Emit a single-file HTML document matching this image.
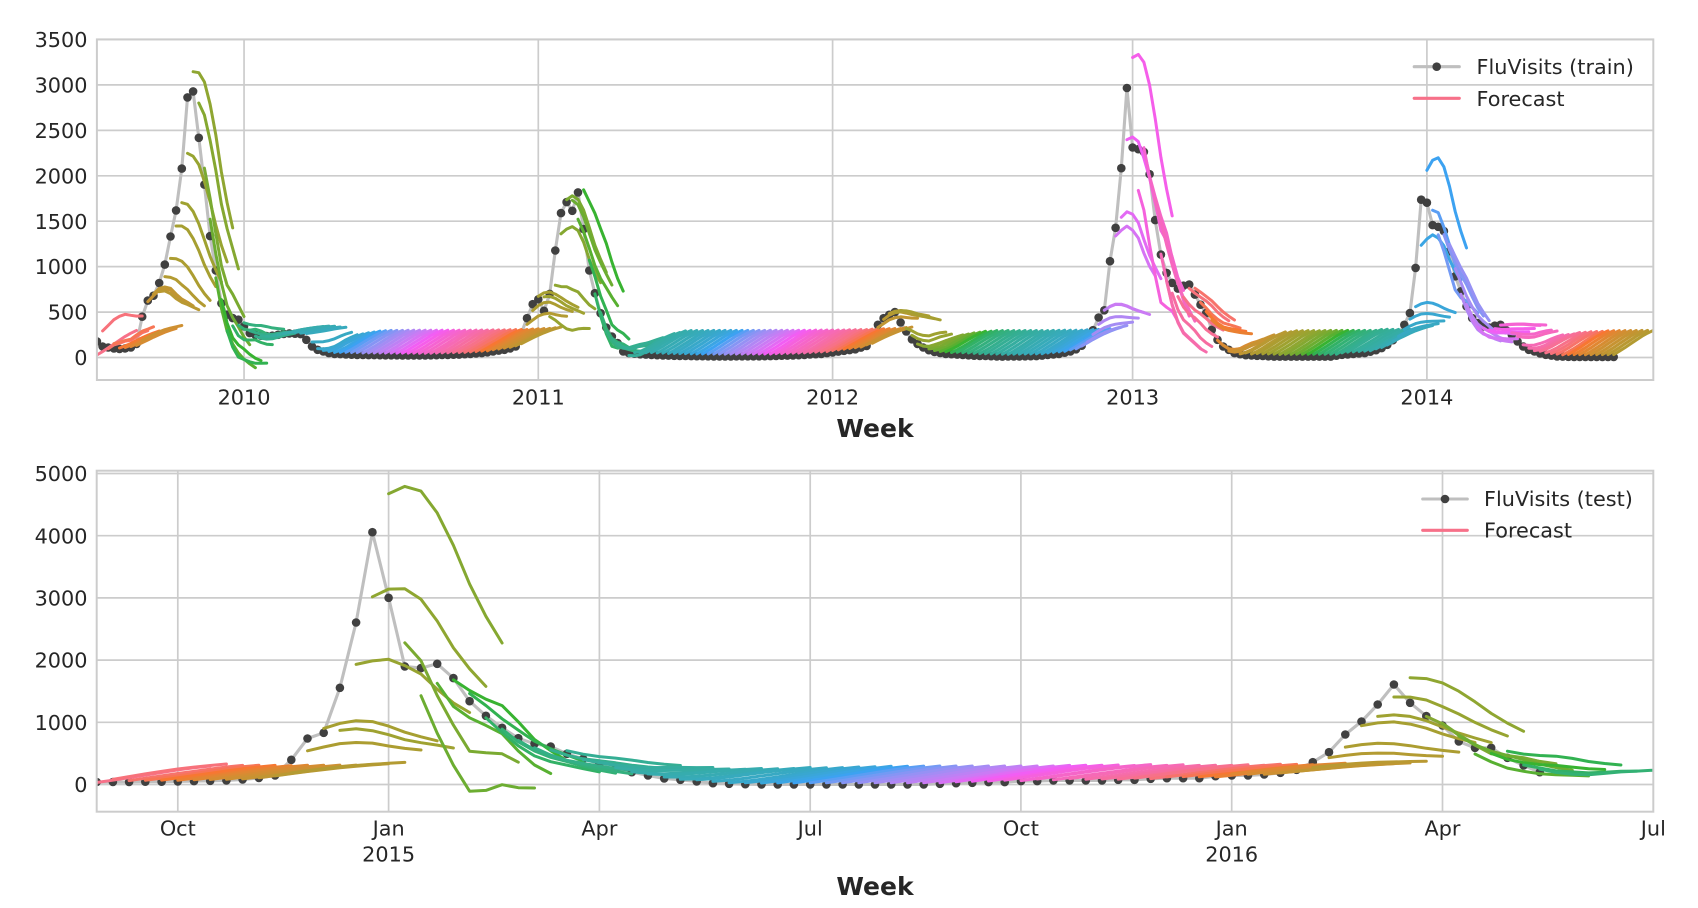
<!DOCTYPE html>
<html>
<head>
<meta charset="utf-8">
<style>
  html,body{margin:0;padding:0;background:#fff;}
  svg{display:block;}
  text{font-family:"DejaVu Sans","Liberation Sans",sans-serif;fill:#262626;}
  .tk{font-size:20.8px;}
  .lb{font-size:25px;font-weight:bold;}
  .grid line{stroke:#cccccc;stroke-width:1.7;}
</style>
</head>
<body>
<svg id="fig" xmlns="http://www.w3.org/2000/svg" width="1698" height="908" viewBox="0 0 1698 908">
  <rect x="0" y="0" width="1698" height="908" fill="#ffffff"/>
  <defs>
    <clipPath id="c1"><rect x="96.9" y="39.4" width="1556.4" height="340.6"/></clipPath>
    <clipPath id="c2"><rect x="96.7" y="470.7" width="1556.6" height="341"/></clipPath>
  </defs>

  <!-- ===== AX1 grid ===== -->
  <g class="grid">
    <line x1="96.9" x2="1653.3" y1="357.5" y2="357.5"/>
    <line x1="96.9" x2="1653.3" y1="312.1" y2="312.1"/>
    <line x1="96.9" x2="1653.3" y1="266.6" y2="266.6"/>
    <line x1="96.9" x2="1653.3" y1="221.2" y2="221.2"/>
    <line x1="96.9" x2="1653.3" y1="175.8" y2="175.8"/>
    <line x1="96.9" x2="1653.3" y1="130.4" y2="130.4"/>
    <line x1="96.9" x2="1653.3" y1="84.9" y2="84.9"/>
    <line x1="96.9" x2="1653.3" y1="39.5" y2="39.5"/>
    <line x1="244.05" x2="244.05" y1="39.4" y2="380"/>
    <line x1="538.3" x2="538.3" y1="39.4" y2="380"/>
    <line x1="832.6" x2="832.6" y1="39.4" y2="380"/>
    <line x1="1132.6" x2="1132.6" y1="39.4" y2="380"/>
    <line x1="1426.9" x2="1426.9" y1="39.4" y2="380"/>
  </g>
  <!-- ===== AX2 grid ===== -->
  <g class="grid">
    <line x1="96.7" x2="1653.3" y1="784.5" y2="784.5"/>
    <line x1="96.7" x2="1653.3" y1="722.3" y2="722.3"/>
    <line x1="96.7" x2="1653.3" y1="660.1" y2="660.1"/>
    <line x1="96.7" x2="1653.3" y1="597.9" y2="597.9"/>
    <line x1="96.7" x2="1653.3" y1="535.7" y2="535.7"/>
    <line x1="96.7" x2="1653.3" y1="473.5" y2="473.5"/>
    <line x1="177.8" x2="177.8" y1="470.7" y2="811.7"/>
    <line x1="388.6" x2="388.6" y1="470.7" y2="811.7"/>
    <line x1="599.4" x2="599.4" y1="470.7" y2="811.7"/>
    <line x1="810.2" x2="810.2" y1="470.7" y2="811.7"/>
    <line x1="1020.9" x2="1020.9" y1="470.7" y2="811.7"/>
    <line x1="1231.7" x2="1231.7" y1="470.7" y2="811.7"/>
    <line x1="1442.5" x2="1442.5" y1="470.7" y2="811.7"/>
  </g>

  <g id="d1" clip-path="url(#c1)"></g>
  <g id="d2" clip-path="url(#c2)"></g>

  <!-- spines -->
  <rect x="96.9" y="39.4" width="1556.4" height="340.6" fill="none" stroke="#cccccc" stroke-width="2"/>
  <rect x="96.7" y="470.7" width="1556.6" height="341" fill="none" stroke="#cccccc" stroke-width="2"/>

  <!-- AX1 tick labels -->
  <g class="tk" text-anchor="end">
    <text x="87.5" y="365.1">0</text>
    <text x="87.5" y="319.7">500</text>
    <text x="87.5" y="274.2">1000</text>
    <text x="87.5" y="228.8">1500</text>
    <text x="87.5" y="183.4">2000</text>
    <text x="87.5" y="138.0">2500</text>
    <text x="87.5" y="92.5">3000</text>
    <text x="87.5" y="47.1">3500</text>
  </g>
  <g class="tk" text-anchor="middle">
    <text x="244.05" y="404.3">2010</text>
    <text x="538.3" y="404.3">2011</text>
    <text x="832.6" y="404.3">2012</text>
    <text x="1132.6" y="404.3">2013</text>
    <text x="1426.9" y="404.3">2014</text>
  </g>
  <text class="lb" x="875" y="437" text-anchor="middle">Week</text>

  <!-- AX2 tick labels -->
  <g class="tk" text-anchor="end">
    <text x="87.5" y="792.1">0</text>
    <text x="87.5" y="729.9">1000</text>
    <text x="87.5" y="667.7">2000</text>
    <text x="87.5" y="605.5">3000</text>
    <text x="87.5" y="543.3">4000</text>
    <text x="87.5" y="481.1">5000</text>
  </g>
  <g class="tk" text-anchor="middle">
    <text x="177.8" y="835.6">Oct</text>
    <text x="388.6" y="835.6">Jan</text>
    <text x="388.6" y="861.5">2015</text>
    <text x="599.4" y="835.6">Apr</text>
    <text x="810.2" y="835.6">Jul</text>
    <text x="1020.9" y="835.6">Oct</text>
    <text x="1231.7" y="835.6">Jan</text>
    <text x="1231.7" y="861.5">2016</text>
    <text x="1442.5" y="835.6">Apr</text>
    <text x="1653.3" y="835.6">Jul</text>
  </g>
  <text class="lb" x="875" y="895" text-anchor="middle">Week</text>

  <!-- Legends -->
  <g>
    <line x1="1414.2" y1="66.7" x2="1459.3" y2="66.7" stroke="#bfbfbf" stroke-width="3.1" stroke-linecap="round"/>
    <circle cx="1436.7" cy="66.7" r="4.3" fill="#404040"/>
    <text class="tk" x="1476.5" y="74">FluVisits (train)</text>
    <line x1="1414.2" y1="98.3" x2="1459.3" y2="98.3" stroke="#f77189" stroke-width="3.1" stroke-linecap="round"/>
    <text class="tk" x="1476.5" y="106">Forecast</text>
  </g>
  <g>
    <line x1="1422.7" y1="499" x2="1467.3" y2="499" stroke="#bfbfbf" stroke-width="3.1" stroke-linecap="round"/>
    <circle cx="1445" cy="499" r="4.3" fill="#404040"/>
    <text class="tk" x="1484" y="506">FluVisits (test)</text>
    <line x1="1422.7" y1="530.3" x2="1467.3" y2="530.3" stroke="#f77189" stroke-width="3.1" stroke-linecap="round"/>
    <text class="tk" x="1484" y="537.7">Forecast</text>
  </g>
</svg>

<script>
(function(){
  var NS = 'http://www.w3.org/2000/svg';
  // ---------- husl palette (seaborn husl_palette, n=64) ----------
  var m = [[3.2406,-1.5372,-0.4986],[-0.9689,1.8758,0.0415],[0.0557,-0.2040,1.0570]];
  var refU = 0.19784, refV = 0.46834, kappa = 903.3, eps = 0.008856;
  function maxChroma(L,H){
    var hr = H*Math.PI/180, sinH = Math.sin(hr), cosH = Math.cos(hr);
    var sub1 = Math.pow(L+16,3)/1560896.0;
    var sub2 = sub1 > eps ? sub1 : L/kappa;
    var res = Infinity;
    for (var r=0;r<3;r++){
      var m1=m[r][0], m2=m[r][1], m3=m[r][2];
      var top = (0.99915*m1 + 1.05122*m2 + 1.14460*m3)*sub2;
      var rb = 0.86330*m3 - 0.17266*m2;
      var lb = 0.12949*m3 - 0.38848*m1;
      var bottom = (rb*sinH + lb*cosH)*sub2;
      for (var t=0;t<=1;t++){
        var C = L*(top - 1.05122*t)/(bottom + 0.17266*sinH*t);
        if (C>0 && C<res) res = C;
      }
    }
    return res;
  }
  function fromLinear(c){ return c<=0.0031308 ? 12.92*c : 1.055*Math.pow(c,1/2.4)-0.055; }
  function husl(H,S,L){
    var C = maxChroma(L,H)/100*S;
    var hr = H*Math.PI/180;
    var U = C*Math.cos(hr), V = C*Math.sin(hr);
    var t = (L+16)/116;
    var varY = Math.pow(t,3) > eps ? Math.pow(t,3) : (116*t-16)/kappa;
    var varU = U/(13*L)+refU, varV = V/(13*L)+refV;
    var Y = varY;
    var X = -(9*Y*varU)/((varU-4)*varV - varU*varV);
    var Z = (9*Y - 15*varV*Y - varV*X)/(3*varV);
    var out = [];
    for (var r=0;r<3;r++){
      var c = fromLinear(m[r][0]*X + m[r][1]*Y + m[r][2]*Z);
      c = Math.max(0, Math.min(1, c));
      out.push(Math.round(c*255));
    }
    return 'rgb('+out[0]+','+out[1]+','+out[2]+')';
  }
  var pal = [];
  for (var k=0;k<64;k++){
    var h = ((k/64) + 0.01) % 1 * 359;
    pal.push(husl(h, 0.9*99, 0.65*99));
  }

  // ---------- data ----------
  var kp = [[0,177],[1,121],[2,110],[3,100],[4,95],[5,100],[6,110],[7,150],[8,449],[9,626],[10,680],[11,820],[12,1023],[13,1332],[14,1619],[15,2079],[16,2863],[17,2929],[18,2418],[19,1903],[20,1336],[21,957],[22,596],[23,471],[24,434],[25,416],[26,342],[27,269],[28,250],[29,240],[30,235],[31,240],[32,250],[33,260],[34,265],[35,262],[36,258],[37,195],[38,121],[39,85],[40,66],[41,48],[42,40],[46,28],[52,24],[58,22],[64,32],[68,48],[72,85],[73,100],[74,121],[75,270],[76,433],[77,587],[78,640],[79,514],[80,700],[81,1178],[82,1589],[83,1710],[84,1615],[85,1817],[86,1413],[87,958],[88,708],[89,488],[90,330],[91,231],[92,158],[93,66],[94,48],[96,35],[100,22],[105,15],[110,12],[118,14],[124,25],[128,40],[131,65],[134,90],[136,128],[137,250],[138,360],[139,433],[140,470],[141,500],[142,385],[143,286],[144,200],[145,150],[146,110],[147,80],[148,60],[150,40],[155,20],[160,10],[166,15],[170,40],[172,66],[173,90],[174,130],[175,200],[176,300],[177,440],[178,520],[179,1060],[180,1428],[181,2083],[182,2966],[183,2311],[184,2293],[185,2263],[186,2017],[187,1512],[188,1133],[189,931],[190,821],[191,758],[192,790],[193,802],[194,692],[195,581],[196,489],[197,305],[198,195],[199,121],[200,85],[201,48],[203,25],[208,10],[218,10],[220,30],[224,48],[226,80],[227,103],[228,140],[229,190],[230,260],[231,360],[232,489],[233,986],[234,1737],[235,1704],[236,1457],[237,1439],[238,1391],[239,1170],[240,894],[241,729],[242,563],[243,434],[244,379],[245,342],[246,330],[247,350],[248,360],[249,300],[250,250],[251,177],[252,121],[253,85],[254,66],[255,45],[256,30],[258,11],[262,5],[268,5]];
  var N1 = 269;
  var train = new Array(N1);
  for (var a=0;a<kp.length-1;a++){
    var i0=kp[a][0], v0=kp[a][1], i1=kp[a+1][0], v1=kp[a+1][1];
    for (var i=i0;i<=i1;i++) train[i] = v0 + (v1-v0)*(i-i0)/(i1-i0);
  }
  var test = [40,40,40,45,45,50,55,60,65,80,105,145,
    397,740,831,1554,2605,4057,3002,1898,1871,1941,1710,1340,1104,911,745,654,611,493,413,332,252,198,145,97,75,48,21,11,
    5,2,0,0,0,0,0,0,
    0,0,0,0,11,21,27,38,38,54,54,64,64,64,64,75,75,91,102,102,102,134,145,145,161,188,236,359,520,804,1013,1286,1608,1313,1099,949,692,590,590,429,306,198];
  var y = train.concat(test);

  // ---------- linear regression: 4 lags -> 8 steps ----------
  function lags(i){ return [1, i-1>=0?y[i-1]:0, i-2>=0?y[i-2]:0, i-3>=0?y[i-3]:0, i-4>=0?y[i-4]:0]; }
  var A=[],B=[];
  for (var a=0;a<5;a++){ A.push([0,0,0,0,0]); B.push([0,0,0,0,0,0,0,0]); }
  for (var i=0;i<N1;i++){
    var x = lags(i);
    for (var a=0;a<5;a++){
      for (var b=0;b<5;b++) A[a][b] += x[a]*x[b];
      for (var k=0;k<8;k++) B[a][k] += x[a]*y[i+k];
    }
  }
  var Mx = A.map(function(r,a){ return r.concat(B[a]); });
  for (var c=0;c<5;c++){
    var p=c;
    for (var r=c+1;r<5;r++) if (Math.abs(Mx[r][c])>Math.abs(Mx[p][c])) p=r;
    var tmp=Mx[c]; Mx[c]=Mx[p]; Mx[p]=tmp;
    for (var r=0;r<5;r++){
      if (r===c) continue;
      var f = Mx[r][c]/Mx[c][c];
      for (var q=c;q<13;q++) Mx[r][q] -= f*Mx[c][q];
    }
  }
  var W=[];
  for (var a=0;a<5;a++) W.push(Mx[a].slice(5).map(function(v){ return v/Mx[a][a]; }));
  function pred(i){
    var x=lags(i), out=[];
    for (var k=0;k<8;k++){ var s=0; for (var a=0;a<5;a++) s+=x[a]*W[a][k]; out.push(s); }
    return out;
  }

  // ---------- drawing ----------
  function X1(i){ return 96.9 + 5.6596*i; }
  function Y1(v){ return 357.5 - 0.09086*v; }
  function X2(j){ return 96.7 + 16.215*j; }
  function Y2(v){ return 784.5 - 0.0622*v; }
  function poly(g, pts, color, w){
    var e = document.createElementNS(NS,'polyline');
    e.setAttribute('points', pts.map(function(p){ return p[0].toFixed(1)+','+p[1].toFixed(1); }).join(' '));
    e.setAttribute('fill','none');
    e.setAttribute('stroke',color);
    e.setAttribute('stroke-width',w);
    e.setAttribute('stroke-linejoin','round');
    e.setAttribute('stroke-linecap','round');
    g.appendChild(e);
  }
  function dot(g, cx, cy){
    var e = document.createElementNS(NS,'circle');
    e.setAttribute('cx',cx.toFixed(1)); e.setAttribute('cy',cy.toFixed(1));
    e.setAttribute('r','4.3'); e.setAttribute('fill','#404040');
    g.appendChild(e);
  }
  var g1 = document.getElementById('d1'), g2 = document.getElementById('d2');

  // ax1 observed
  var pts=[];
  for (var i=0;i<N1;i++) pts.push([X1(i),Y1(y[i])]);
  poly(g1, pts, '#bfbfbf', 3.1);
  for (var i=0;i<N1;i++) dot(g1, X1(i), Y1(y[i]));
  // ax1 forecasts
  for (var i=0;i<N1;i++){
    var pr = pred(i), pp=[];
    for (var k=0;k<8;k++) pp.push([X1(i+k), Y1(pr[k])]);
    poly(g1, pp, pal[i%64], 3.0);
  }
  // ax2 observed
  pts=[];
  for (var j=0;j<test.length;j++) pts.push([X2(j),Y2(test[j])]);
  poly(g2, pts, '#bfbfbf', 3.1);
  for (var j=0;j<test.length;j++) dot(g2, X2(j), Y2(test[j]));
  // ax2 forecasts
  for (var j=0;j<test.length;j++){
    var pr = pred(N1+j), pp=[];
    for (var k=0;k<8;k++) pp.push([X2(j+k), Y2(pr[k])]);
    poly(g2, pp, pal[j%64], 3.0);
  }
})();
</script>
</body>
</html>
